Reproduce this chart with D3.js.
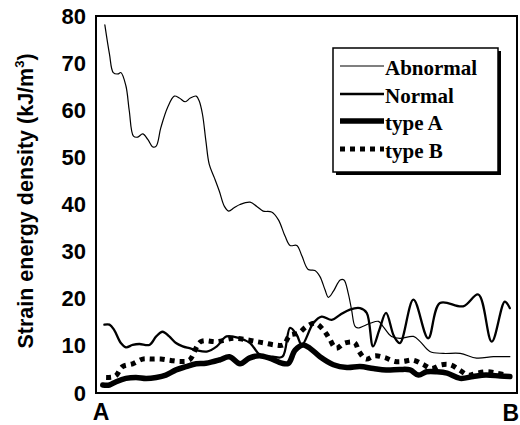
<!DOCTYPE html>
<html><head><meta charset="utf-8">
<script src="https://cdn.jsdelivr.net/npm/d3@7"></script>
<style>body{margin:0;background:#fff}svg{display:block}</style>
</head><body>
<svg id="c" width="520" height="425"></svg>
<script>
// ---- data (x: position along A→B, 0..100; y: kJ/m^3) ----
const yTicks = [0,10,20,30,40,50,60,70,80];
const xLabels = ["A","B"];
const seriesNames = ["Abnormal","Normal","type A","type B"];

const abnormalX = [2.1,3.2,4.1,5.2,5.9,7.1,7.9,8.9,9.9,11.1,12.3,13.5,14.3,15.4,17.0,18.6,19.8,21.2,22.4,23.8,24.5,25.3,26.1,26.9,28.1,29.3,30.5,31.5,32.8,34.2,36.6,38.2,39.7,41.7,43.3,44.9,46.1,47.7,48.9,50.4,52.0,53.2,54.4,55.2,56.4,58.0,58.9,59.9,60.7,61.5,62.2,65.1,67.1,68.2,70.2,72.2,75.4,77.0,79.3,82.5,86.5,90.4,94.4,98.3];
const abnormalY = [78.1,71.9,68.0,67.7,68.0,65.2,59.9,54.5,54.3,55.0,53.8,52.2,52.4,56.3,60.6,63.0,62.6,61.8,62.6,63.0,62.0,59.1,53.5,48.5,45.7,42.8,39.6,38.6,39.3,40.0,40.5,39.6,38.6,38.4,36.8,33.3,31.3,31.3,29.1,26.2,26.0,24.7,21.9,20.3,21.6,24.0,24.0,21.2,17.7,14.2,13.8,14.8,15.2,14.1,12.0,11.6,12.0,10.9,8.8,8.4,8.4,7.4,7.7,7.7];

const normalX = [2.0,3.2,4.3,5.9,7.1,8.7,10.3,12.7,14.3,15.8,17.4,19.0,20.6,22.2,23.8,26.3,28.7,31.0,34.2,36.6,39.0,42.0,44.3,46.1,47.7,48.9,51.6,53.6,56.0,58.0,60.3,62.7,64.3,65.8,67.3,68.9,70.8,72.2,75.4,78.9,81.7,87.2,90.8,94.0,97.1,98.3];
const normalY = [14.5,14.5,13.4,10.6,9.7,10.2,10.4,10.2,12.0,13.0,12.0,10.6,9.9,9.5,9.1,8.8,9.9,12.0,11.6,10.6,8.1,7.7,7.7,13.8,12.3,10.2,14.8,16.2,15.5,16.6,17.7,18.0,17.0,9.9,13.4,17.0,12.0,10.6,19.8,11.6,19.1,18.4,20.9,10.9,19.4,18.0];

const typeAX = [1.6,3.2,4.8,7.1,9.5,11.9,14.3,16.6,19.0,21.4,23.8,26.1,29.3,31.7,34.2,36.4,38.8,41.2,44.2,45.7,47.3,49.2,50.8,53.2,56.4,59.6,62.7,65.9,68.9,72.2,74.6,76.6,78.5,81.0,83.4,86.5,89.6,92.6,96.0,98.3];
const typeAY = [1.7,1.7,2.4,3.1,3.3,3.1,3.3,3.8,4.9,5.6,6.2,6.3,7.0,7.7,6.2,7.4,7.9,7.4,6.3,6.3,9.1,10.2,9.5,7.7,6.0,5.4,5.6,5.2,4.9,5.0,4.9,3.8,4.5,4.5,4.2,3.1,3.5,3.8,3.6,3.5];

const typeBX = [2.4,4.6,6.3,8.7,11.1,13.1,15.4,17.8,20.2,22.2,24.9,28.7,32.6,35.8,38.2,40.1,42.5,44.5,46.1,48.1,50.0,52.0,54.0,55.4,57.0,59.1,61.4,62.5,64.1,66.3,68.6,71.0,73.0,75.2,77.6,79.7,82.1,84.1,86.3,88.4,90.4,92.8,95.2,97.6];
const typeBY = [3.3,3.6,5.6,6.2,7.2,7.2,7.2,6.9,6.7,7.0,10.9,10.9,11.6,11.3,10.9,10.6,10.2,10.2,12.3,12.7,14.1,14.8,13.4,11.6,9.5,10.6,10.7,8.8,7.2,7.9,7.5,6.7,6.7,7.0,6.1,5.2,6.0,6.0,4.9,3.8,4.2,4.5,4.2,3.8];

// ---- layout ----
const L = 96, R = 517, T = 16, B = 393;
const svg = d3.select("#c");
const x = d3.scaleLinear().domain([0,100]).range([L,R]);
const y = d3.scaleLinear().domain([0,80]).range([B,T]);

const styles = {
  "Abnormal": {w:1.2, dash:null},
  "Normal":   {w:2.3, dash:null},
  "type A":   {w:5.5, dash:null},
  "type B":   {w:5,   dash:"5,5"}
};
const series = [
  {name:"Abnormal", xs:abnormalX, ys:abnormalY},
  {name:"Normal", xs:normalX, ys:normalY},
  {name:"type B", xs:typeBX, ys:typeBY},
  {name:"type A", xs:typeAX, ys:typeAY}
];

const line = d3.line().x(d=>x(d[0])).y(d=>y(d[1])).curve(d3.curveCatmullRom.alpha(0.5));

const g = svg.append("g");
series.forEach(s=>{
  const pts = s.xs.map((v,i)=>[v,s.ys[i]]);
  const st = styles[s.name];
  g.append("path").attr("d", line(pts)).attr("fill","none").attr("stroke","#000")
    .attr("stroke-width", st.w).attr("stroke-linejoin","round")
    .attr("stroke-linecap", st.dash ? "butt" : "round")
    .attr("stroke-dasharray", st.dash);
});

// frame
svg.append("rect").attr("x",L).attr("y",T).attr("width",R-L).attr("height",B-T)
  .attr("fill","none").attr("stroke","#000").attr("stroke-width",2);

// y axis
const ya = svg.append("g").attr("transform",`translate(${L},0)`)
  .call(d3.axisLeft(y).tickValues(yTicks).tickSize(0).tickPadding(10));
ya.select(".domain").remove();
ya.selectAll("text").attr("font-family","'Liberation Sans', Arial, sans-serif")
  .attr("font-weight","bold").attr("font-size",22).attr("fill","#000");

// x labels
svg.append("text").attr("x",x(0)+5).attr("y",420).attr("text-anchor","middle")
  .attr("font-family","'Liberation Sans', Arial, sans-serif").attr("font-weight","bold")
  .attr("font-size",23).text(xLabels[0]);
svg.append("text").attr("x",519).attr("y",421).attr("text-anchor","end")
  .attr("font-family","'Liberation Sans', Arial, sans-serif").attr("font-weight","bold")
  .attr("font-size",23).text(xLabels[1]);

// y title
const yt = svg.append("text").attr("transform","translate(33,201) rotate(-90)")
  .attr("text-anchor","middle").attr("font-family","'Liberation Sans', Arial, sans-serif")
  .attr("font-weight","bold").attr("font-size",21.5);
yt.append("tspan").text("Strain energy density (kJ/m");
yt.append("tspan").attr("font-size",13).attr("dy",-9).text("3");
yt.append("tspan").attr("dy",9).text(")");

// legend
const lg = svg.append("g");
lg.append("rect").attr("x",336).attr("y",51).attr("width",165).attr("height",124).attr("fill","#000");
lg.append("rect").attr("x",333).attr("y",48).attr("width",165).attr("height",124)
  .attr("fill","#fff").attr("stroke","#000").attr("stroke-width",1.5);
const legY = [75,103,130,158];
seriesNames.forEach((n,i)=>{
  const st = styles[n];
  lg.append("line").attr("x1",340).attr("x2",384).attr("y1",legY[i]-9).attr("y2",legY[i]-9)
    .attr("stroke","#000").attr("stroke-width",st.w).attr("stroke-dasharray",st.dash);
  lg.append("text").attr("x",385).attr("y",legY[i])
    .attr("font-family","'Liberation Serif', 'Times New Roman', serif").attr("font-weight","bold")
    .attr("font-size",21).text(n);
});
</script>
</body></html>
